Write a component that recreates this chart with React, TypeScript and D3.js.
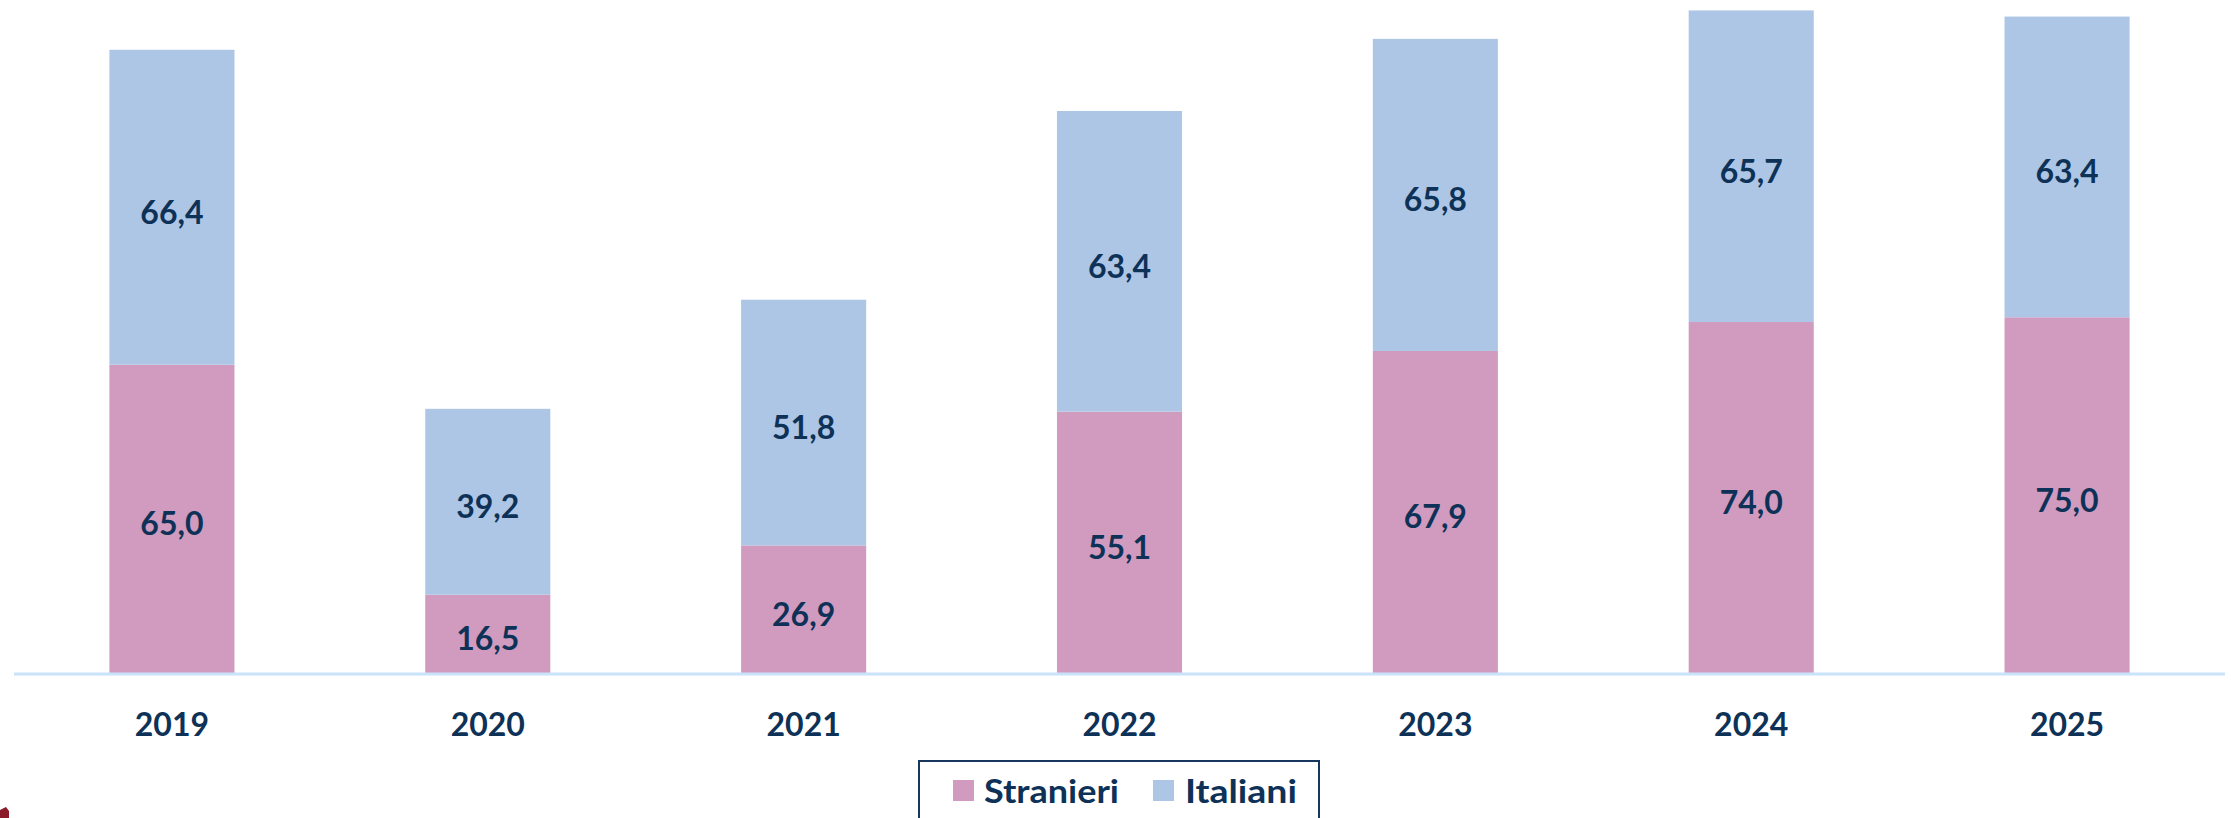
import React from "react";
import * as d3 from "d3";

const years = ["2019", "2020", "2021", "2022", "2023", "2024", "2025"];
const stranieri = [65.0, 16.5, 26.9, 55.1, 67.9, 74.0, 75.0];
const italiani = [66.4, 39.2, 51.8, 63.4, 65.8, 65.7, 63.4];
const seriesNames = ["Stranieri", "Italiani"];
const seriesColors = ["#d09bbf", "#adc6e5"];

const W = 2231;
const H = 818;
const TEXT = "#0e3257";
const FONT = "Lato, 'Open Sans', sans-serif";

const fmt = (v: number) => v.toFixed(1).replace(".", ",");

export default function App() {
  const x = d3
    .scaleBand<string>()
    .domain(years)
    .range([14, 2225])
    .paddingInner(0.604)
    .paddingOuter(0.302);
  const y = d3.scaleLinear().domain([0, 140]).range([673, 9]);

  const rows = years.map((yr, i) => ({ year: yr, Stranieri: stranieri[i], Italiani: italiani[i] }));
  const stack = d3.stack<any>().keys(seriesNames)(rows);

  return (
    <svg
      width={W}
      height={H}
      style={{ position: "absolute", left: 0, top: 0, background: "#fff" }}
      fontFamily={FONT}
    >
      {stack.map((s, si) => (
        <g key={s.key}>
          {s.map((d, i) => {
            const x0 = x(years[i])!;
            const yTop = y(d[1]);
            const yBot = y(d[0]);
            return (
              <g key={i}>
                <rect x={x0} y={yTop} width={x.bandwidth()} height={yBot - yTop} fill={seriesColors[si]} />
                <text
                  x={x0 + x.bandwidth() / 2}
                  y={(yTop + yBot) / 2 + 16.5}
                  textAnchor="middle"
                  fontSize={32}
                  fontWeight={700}
                  fill={TEXT}
                >
                  {fmt(d[1] - d[0])}
                </text>
              </g>
            );
          })}
        </g>
      ))}
      <line x1={14} x2={2225} y1={y(0) + 1} y2={y(0) + 1} stroke="#c9e3fb" strokeWidth={3} />
      {years.map((yr) => (
        <text
          key={yr}
          x={x(yr)! + x.bandwidth() / 2}
          y={736}
          textAnchor="middle"
          fontSize={32}
          fontWeight={700}
          fill={TEXT}
        >
          {yr}
        </text>
      ))}
      <g>
        <rect x={919} y={761} width={400} height={70} fill="#fff" stroke="#17375e" strokeWidth={2} />
        <rect x={953} y={780} width={21} height={21} fill={seriesColors[0]} />
        <text x={984} y={803} fontSize={33} fontWeight={700} fill={TEXT} textLength={135} lengthAdjust="spacingAndGlyphs">
          {seriesNames[0]}
        </text>
        <rect x={1153} y={780} width={21} height={21} fill={seriesColors[1]} />
        <text x={1185} y={803} fontSize={33} fontWeight={700} fill={TEXT} textLength={112} lengthAdjust="spacingAndGlyphs">
          {seriesNames[1]}
        </text>
      </g>
      <path d="M0,810 L6,807 L9,811 L9,818 L0,818 Z" fill="#8b1a2b" />
    </svg>
  );
}
